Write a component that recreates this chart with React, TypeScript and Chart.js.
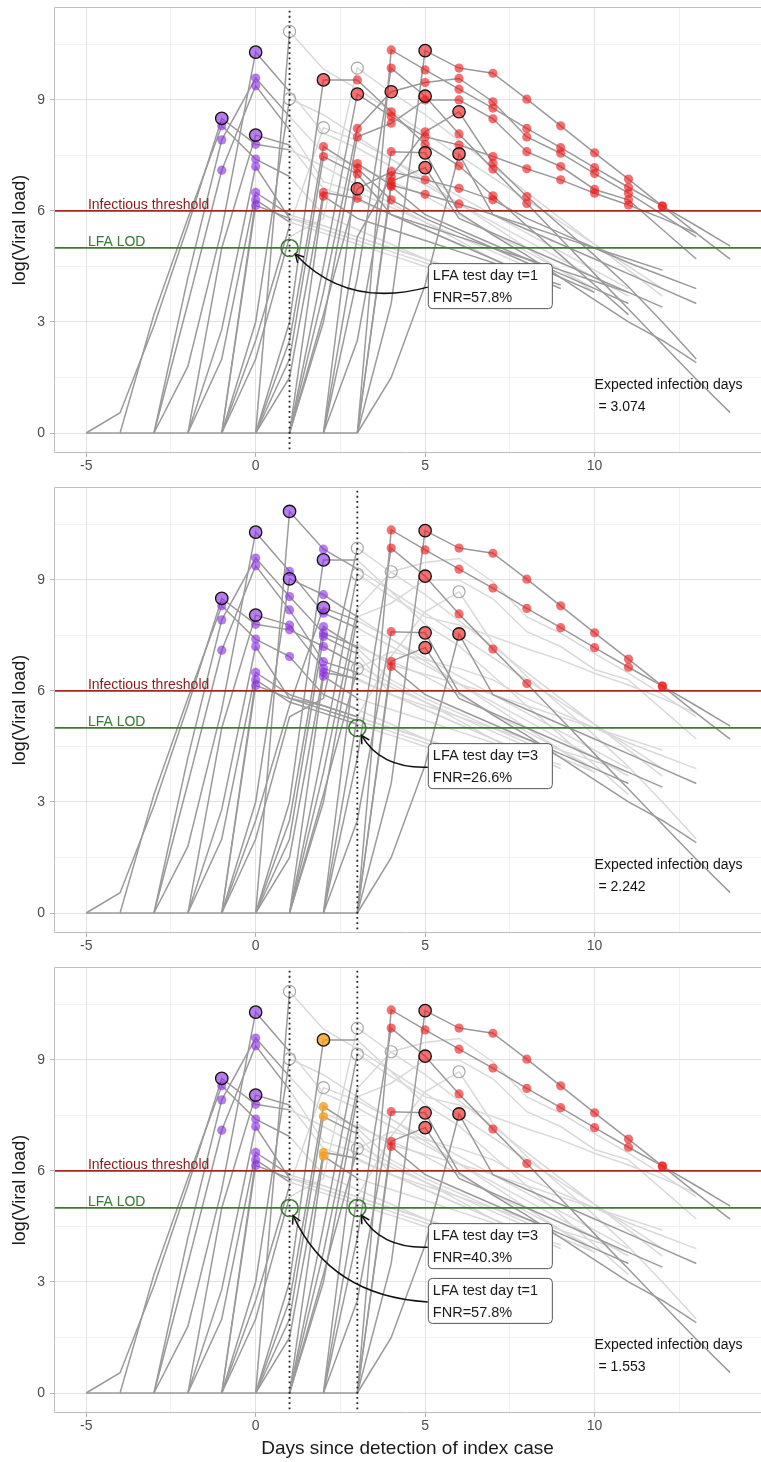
import React, { useEffect, useRef } from "react";
import { Chart, registerables } from "chart.js";

Chart.register(...registerables);

// ---------------- data ----------------
const xTickStep = 2.5;
const yTickStep = 1.5;
const xMajor = 5;
const yMajor = 3;
const infectiousThreshold = 6;
const lfaLod = 5;

// trajectory start day (day with value 0), values at consecutive integer days
const trajStart = [-5, -5, -4, -3, -3, -3, -2, -2, -2, -1, -1, 0, -1, -1, -1, 0, 1, 1, 1, 2, 1, 2, 0, 0, 0, 1, 3, 3, 2, 2, 3, 3, 3];
const trajValues = [
  [0, 0, 0, 0, 0, 0, 0, 0, 0],
  [0, 0.55, 2.9, 5.6, 8.5, 7.8, 7.65, 7.2, 6.7, 6.2, 5.7, 5.2, 4.7, 4.2],
  [0, 3.2, 5.8, 8.3, 7.4, 6.93, 5.9, 5.5, 5.1, 4.7, 4.3, 3.9],
  [0, 4.2, 7.92, 9.59, 8.55, 7.56, 7.2, 6.8, 6.4, 5.9, 5.4, 4.9, 4.4, 3.9],
  [0, 3.5, 7.1, 9.38, 8.19, 6.79, 6.5, 6.1, 5.7, 5.3, 4.9, 4.5],
  [0, 1.8, 5.5, 10.29, 9.23, 8.1, 7.7, 7.2, 6.7, 6.2, 5.7, 5.2, 4.7, 4.2, 3.7],
  [0, 5.0, 8.05, 7.78, 6.61, 6.3, 5.9, 5.5, 5.1, 4.7, 4.3, 3.9],
  [0, 2.8, 7.2, 5.8, 5.5, 5.2, 4.9, 4.6, 4.3, 4.0],
  [0, 2.0, 6.5, 5.9, 5.6, 5.3, 5.0, 4.7, 4.4],
  [0, 6.3, 5.7, 5.4, 5.1, 4.8, 4.5, 4.2, 3.9, 3.6],
  [0, 6.15, 5.8, 5.6, 5.3, 5.0, 4.7, 4.4, 4.1],
  [0, 10.85, 9.83, 9.3, 8.7, 8.1, 7.5, 6.9, 6.3, 5.7, 5.1, 4.5, 3.9],
  [0, 3.0, 9.03, 8.6, 8.0, 7.4, 6.8, 6.2, 5.6, 5.0, 4.4, 3.8],
  [0, 2.5, 5.6, 8.25, 7.9, 7.4, 6.9, 6.4, 5.9, 5.4, 4.9, 4.4, 3.9],
  [0, 2.0, 5.3, 5.8, 9.86, 9.2, 8.6, 7.9, 7.2, 6.5, 5.8, 5.1, 4.4, 3.7],
  [0, 3.0, 9.54, 9.54, 8.68, 7.8, 7.22, 6.41, 5.6, 4.8, 4.0, 3.2],
  [0, 4.5, 9.16, 8.55, 8.0, 7.78, 7.47, 7.14, 6.84, 6.48, 6.16, 5.8, 5.4],
  [0, 3.8, 8.23, 9.22, 9.47, 9.58, 8.95, 8.0, 7.56, 7.01, 6.48, 5.9, 5.3],
  [0, 3.0, 8.0, 8.37, 9.0, 9.0, 8.49, 7.6, 7.2, 6.58, 6.3, 5.5, 4.7],
  [0, 5.3, 6.93, 8.14, 8.68, 7.29, 6.39, 5.6, 4.8, 3.95, 3.0, 2.0],
  [0, 3.2, 6.6, 7.06, 6.84, 6.61, 6.3, 5.8, 5.4, 5.0, 4.6, 4.25, 3.9],
  [0, 7.28, 6.7, 6.45, 6.19, 5.9, 5.6, 5.3, 5.0, 4.7, 4.4],
  [0, 2.5, 7.74, 7.15, 6.3, 5.8, 5.4, 5.0, 4.6, 4.2, 3.8],
  [0, 2.0, 7.47, 7.0, 5.9, 5.5, 5.1, 4.7, 4.3, 3.9],
  [0, 1.5, 6.5, 6.34, 5.9, 5.6, 5.3, 5.0, 4.7, 4.4, 4.1, 3.8],
  [0, 6.4, 5.8, 5.5, 5.2, 4.9, 4.6, 4.3, 4.0],
  [0, 10.35, 9.81, 9.29, 8.78, 8.23, 7.71, 7.17, 6.64, 6.13, 5.6, 5.05],
  [0, 3.5, 10.33, 9.86, 9.72, 9.02, 8.3, 7.57, 6.86, 6.13, 5.4, 4.7],
  [0, 4.2, 9.86, 9.1, 8.08, 7.13, 6.2, 5.25, 4.3, 3.35, 2.4, 1.45, 0.55],
  [0, 2.5, 7.6, 7.57, 5.95, 5.35, 4.8, 4.2, 3.6, 3.0, 2.5, 1.9],
  [0, 6.8, 7.17, 5.8, 5.4, 5.0, 4.6, 4.2, 3.8, 3.4],
  [0, 1.5, 4.0, 7.54, 5.9, 5.5, 5.1, 4.7, 4.3, 3.9, 3.5],
  [0, 6.66, 5.9, 5.5, 5.1, 4.7, 4.3, 3.9, 3.5],
];
// marked (outlined) day per trajectory, null = none
const trajMark: (number | null)[] = [
  null, -1, null, null, null, 0, 0, null, null, null, null, 1, 1, 2, 3,
  2, 3, 4, null, 6, 3, null, null, null, null, null,
  null, 5, 5, 5, 5, 6, null,
];

// panels
const panelTests = [[1], [3], [1, 3]];
const panelBoxTests = [[1], [3], [3, 1]];
const panelFNR = [["57.8%"], ["26.6%"], ["40.3%", "57.8%"]];
const panelBoxTop = [[4.59], [4.59], [4.59, 3.11]];
const panelExpected = ["3.074", "2.242", "1.553"];

// ---------------- styling ----------------
const FONT = '"Liberation Sans", Arial, Helvetica, sans-serif';
const DARK = "#9a9a9a";
const LIGHT = "#d9d9d9";
const PURPLE = "rgba(138, 43, 226, 0.62)";
const RED = "rgba(238, 24, 24, 0.62)";
const ORANGE = "rgba(245, 160, 30, 0.82)";
const THRESH_COLOR = "#a82424";
const LOD_COLOR = "#3b7d2f";
const W = 761;
const PANEL_STEP = 480;

const annotPlugin = {
  id: "annot",
  afterDatasetsDraw(chart: any, _args: any, o: any) {
    const { ctx, chartArea: a } = chart;
    const xs = chart.scales.x;
    const ys = chart.scales.y;
    const X = (v: number) => xs.getPixelForValue(v);
    const Y = (v: number) => ys.getPixelForValue(v);
    ctx.save();
    // panel border (right side cropped)
    ctx.strokeStyle = "#bdbdbd";
    ctx.lineWidth = 1;
    ctx.beginPath();
    ctx.moveTo(a.right, a.top + 0.5);
    ctx.lineTo(a.left + 0.5, a.top + 0.5);
    ctx.lineTo(a.left + 0.5, a.bottom - 0.5);
    ctx.lineTo(a.right, a.bottom - 0.5);
    ctx.stroke();

    // threshold labels
    ctx.font = `14px ${FONT}`;
    ctx.textAlign = "left";
    ctx.textBaseline = "alphabetic";
    ctx.fillStyle = "#8b1a1a";
    ctx.fillText("Infectious threshold", X(-4.95), Y(infectiousThreshold) - 2);
    ctx.fillStyle = "#2e7d32";
    ctx.fillText("LFA LOD", X(-4.95), Y(lfaLod) - 2);

    // boxes and arrows
    o.tests.forEach((t: number, i: number) => {
      const left = X(5.08);
      const top = Y(o.tops[i]);
      const sx = left;
      const sy = top + 24;
      const cx = X(t);
      const cy = Y(lfaLod);
      const dx = cx - sx;
      const dy = cy - sy;
      const kx = (sx + cx) / 2 + dy * 0.3;
      const ky = (sy + cy) / 2 - dx * 0.3;
      const ux = kx - cx;
      const uy = ky - cy;
      const ul = Math.hypot(ux, uy);
      const tx = cx + (8.5 * ux) / ul;
      const ty = cy + (8.5 * uy) / ul;
      ctx.strokeStyle = "#111";
      ctx.lineWidth = 1.5;
      ctx.beginPath();
      ctx.moveTo(sx, sy);
      ctx.quadraticCurveTo(kx, ky, tx, ty);
      ctx.stroke();
      const ang = Math.atan2(ty - ky, tx - kx);
      const hl = 9;
      ctx.beginPath();
      ctx.moveTo(tx - hl * Math.cos(ang - 0.5), ty - hl * Math.sin(ang - 0.5));
      ctx.lineTo(tx, ty);
      ctx.lineTo(tx - hl * Math.cos(ang + 0.5), ty - hl * Math.sin(ang + 0.5));
      ctx.stroke();

      ctx.fillStyle = "#ffffff";
      ctx.strokeStyle = "#555";
      ctx.lineWidth = 1;
      ctx.beginPath();
      ctx.roundRect(left + 0.5, top + 0.5, 124, 45, 4);
      ctx.fill();
      ctx.stroke();
      ctx.fillStyle = "#1a1a1a";
      ctx.font = `14.5px ${FONT}`;
      ctx.textBaseline = "middle";
      ctx.fillText(`LFA test day t=${t}`, left + 5, top + 13);
      ctx.fillText(`FNR=${o.fnr[i]}`, left + 5, top + 35);
    });

    // expected days
    ctx.fillStyle = "#111";
    ctx.font = `14px ${FONT}`;
    ctx.textBaseline = "middle";
    ctx.fillText("Expected infection days", X(10.0), Y(1.3));
    ctx.fillText(` = ${o.expected}`, X(10.0), Y(0.7));
    ctx.restore();
  },
};

function lineDS(data: any[], color: string, order: number, width = 1.5, dash: number[] = []) {
  return {
    data,
    showLine: true,
    borderColor: color,
    borderWidth: width,
    borderDash: dash,
    pointRadius: 0,
    pointHoverRadius: 0,
    tension: 0,
    order,
  };
}

function pointDS(data: any[], fill: string, border: string, bw: number, r: number, order: number) {
  return {
    data,
    showLine: false,
    pointRadius: r,
    pointHoverRadius: r,
    pointBackgroundColor: fill,
    pointBorderColor: border,
    pointBorderWidth: bw,
    order,
  };
}

function buildConfig(p: number, height: number, showXTitle: boolean) {
  const tests = panelTests[p];
  const datasets: any[] = [];
  const pts: Record<string, any[]> = {
    purple: [], purpleM: [], red: [], redM: [], orange: [], orangeM: [], open: [],
  };
  trajStart.forEach((s, i) => {
    const vals = trajValues[i];
    const valAt = (d: number) => (d >= s && d < s + vals.length ? vals[d - s] : null);
    let D: number | null = null;
    for (const t of tests) {
      const v = valAt(t);
      if (v !== null && v >= lfaLod) {
        D = t;
        break;
      }
    }
    const all = vals.map((v, k) => ({ x: s + k, y: v }));
    const dark = D === null ? all : all.filter((q) => q.x <= (D as number));
    const light = D === null ? [] : all.filter((q) => q.x >= (D as number));
    if (light.length > 1) datasets.push(lineDS(light, LIGHT, 60));
    if (dark.length > 1) datasets.push(lineDS(dark, DARK, 50));
    all.forEach((q) => {
      if (D !== null && q.x >= D) return;
      if (q.y < infectiousThreshold) return;
      if (tests.includes(q.x)) return;
      const col = q.x < tests[0] ? "purple" : q.x > tests[tests.length - 1] ? "red" : "orange";
      pts[col + (trajMark[i] === q.x ? "M" : "")].push(q);
    });
    const m = trajMark[i];
    if (D !== null && m !== null && m >= D) pts.open.push({ x: m, y: valAt(m) });
  });
  datasets.push(pointDS(pts.purple, PURPLE, PURPLE, 0, 4.6, 41));
  datasets.push(pointDS(pts.red, RED, RED, 0, 4.6, 41));
  datasets.push(pointDS(pts.orange, ORANGE, ORANGE, 0, 4.6, 41));
  datasets.push(pointDS(pts.purpleM, PURPLE, "#111", 1.3, 6.2, 40));
  datasets.push(pointDS(pts.redM, RED, "#111", 1.3, 6.2, 40));
  datasets.push(pointDS(pts.orangeM, ORANGE, "#111", 1.3, 6.2, 40));
  datasets.push(pointDS(pts.open, "rgba(0,0,0,0)", "#a8a8a8", 1.2, 6, 40));
  datasets.push(lineDS([{ x: -7, y: infectiousThreshold }, { x: 16, y: infectiousThreshold }], THRESH_COLOR, 30, 1.7));
  datasets.push(lineDS([{ x: -7, y: lfaLod }, { x: 16, y: lfaLod }], LOD_COLOR, 30, 1.7));
  tests.forEach((t) => {
    datasets.push(lineDS([{ x: t, y: -1 }, { x: t, y: 12 }], "#222", 20, 1.8, [1.8, 3.4]));
    datasets.push(pointDS([{ x: t, y: lfaLod }], "rgba(0,0,0,0)", LOD_COLOR, 1.6, 8.5, 10));
  });

  const gridColor = (major: number) => (c: any) =>
    c.tick && Math.abs(c.tick.value % major) < 1e-6 ? "#e2e2e2" : "#f1f1f1";
  const tickColor = (major: number) => (c: any) =>
    c.tick && Math.abs(c.tick.value % major) < 1e-6 ? "#b0b0b0" : "rgba(0,0,0,0)";

  const xHeight = height - 453;

  return {
    type: "scatter" as const,
    data: { datasets },
    plugins: [annotPlugin],
    options: {
      responsive: false,
      animation: false as const,
      devicePixelRatio: 1,
      events: [],
      layout: { autoPadding: false, padding: { top: 7, left: 0, right: 0, bottom: 0 } },
      plugins: {
        legend: { display: false },
        tooltip: { enabled: false },
        annot: {
          tests: panelBoxTests[p],
          fnr: panelFNR[p],
          tops: panelBoxTop[p],
          expected: panelExpected[p],
        },
      },
      scales: {
        x: {
          type: "linear",
          min: -5.95,
          max: 14.91,
          afterFit: (s: any) => {
            s.height = xHeight;
            s.paddingLeft = 0;
            s.paddingRight = 0;
          },
          border: { display: false },
          grid: { color: gridColor(xMajor), tickColor: tickColor(xMajor), tickLength: 4, lineWidth: 1 },
          ticks: {
            stepSize: xTickStep,
            autoSkip: false,
            includeBounds: false,
            maxRotation: 0,
            padding: 1,
            color: "#4d4d4d",
            font: { family: FONT, size: 14 },
            callback: (v: any) => (Math.abs(v % xMajor) < 1e-6 ? String(v) : ""),
          },
          title: {
            display: showXTitle,
            text: "Days since detection of index case",
            color: "#1a1a1a",
            font: { family: FONT, size: 19 },
            padding: { top: 0, bottom: 2 },
          },
        },
        y: {
          type: "linear",
          min: -0.54,
          max: 11.51,
          afterFit: (s: any) => {
            s.width = 54;
            s.paddingTop = 0;
            s.paddingBottom = 0;
          },
          border: { display: false },
          grid: { color: gridColor(yMajor), tickColor: tickColor(yMajor), tickLength: 4, lineWidth: 1 },
          ticks: {
            stepSize: yTickStep,
            autoSkip: false,
            includeBounds: false,
            padding: 5,
            color: "#4d4d4d",
            font: { family: FONT, size: 14 },
            callback: (v: any) => (Math.abs(v % yMajor) < 1e-6 ? String(v) : ""),
          },
          title: {
            display: true,
            text: "log(Viral load)",
            color: "#1a1a1a",
            font: { family: FONT, size: 18 },
            padding: { top: 9, bottom: 0 },
          },
        },
      },
    },
  };
}

function Panel({ idx, height, showXTitle }: { idx: number; height: number; showXTitle: boolean }) {
  const ref = useRef<HTMLCanvasElement>(null);
  useEffect(() => {
    const chart = new Chart(ref.current as HTMLCanvasElement, buildConfig(idx, height, showXTitle) as any);
    return () => chart.destroy();
  }, [idx, height, showXTitle]);
  return (
    <canvas
      ref={ref}
      width={W}
      height={height}
      style={{ position: "absolute", left: 0, top: idx * PANEL_STEP, width: W, height, display: "block" }}
    />
  );
}

export default function App() {
  return (
    <div style={{ position: "absolute", left: 0, top: 0, width: W, height: 1462, background: "#fff", overflow: "hidden" }}>
      <Panel idx={0} height={480} showXTitle={false} />
      <Panel idx={1} height={480} showXTitle={false} />
      <Panel idx={2} height={502} showXTitle={true} />
    </div>
  );
}
